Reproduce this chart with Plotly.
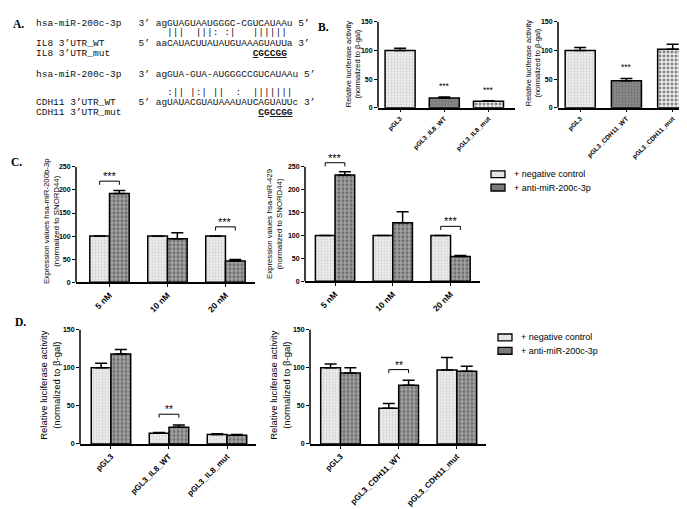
import plotly.graph_objects as go

W, H = 687, 509

# ---------------- data ----------------
mir_name = "hsa-miR-200c-3p"
il8_mir_seq = "agGUAGUAAUGGGC-CGUCAUAAu 5\u2019"
il8_pairs = "  |||  |||: :|   ||||||"
il8_wt_seq = "aaCAUACUUAUAUGUAAAGUAUUa 3\u2019"
il8_names = ["IL8 3\u2019UTR_WT", "IL8 3\u2019UTR_mut"]
il8_mut_start = 17
cdh_mir_seq = "agGUA-GUA-AUGGGCCGUCAUAAu 5\u2019"
cdh_pairs = "  :|| |:| ||  :  |||||||"
cdh_wt_seq = "agUAUACGUAUAAAUAUCAGUAUUc 3\u2019"
cdh_names = ["CDH11 3\u2019UTR_WT", "CDH11 3\u2019UTR_mut"]
cdh_mut_start = 18
mut_parts = [("C", True), ("G", False), ("CCGG", True)]

b1_labels = ["pGL3", "pGL3_IL8_WT", "pGL3_IL8_mut"]
b1_values = [100, 17, 11]
b1_errors = [4, 1.5, 1]
b1_sig = ["", "***", "***"]

b2_labels = ["pGL3", "pGL3_CDH11_WT", "pGL3_CDH11_mut"]
b2_values = [100, 47, 102]
b2_errors = [5, 4, 9]
b2_sig = ["", "***", ""]

c_labels = ["5 nM", "10 nM", "20 nM"]
c1_neg = [100, 100, 100]
c1_neg_err = [0, 0, 0]
c1_anti = [192, 94, 46]
c1_anti_err = [7, 13, 3]
c1_sig = ["***", "", "***"]

c2_neg = [100, 100, 100]
c2_neg_err = [0, 0, 0]
c2_anti = [232, 128, 54]
c2_anti_err = [7, 24, 2]
c2_sig = ["***", "", "***"]

d1_labels = ["pGL3", "pGL3_IL8_WT", "pGL3_IL8_mut"]
d1_neg = [100, 14, 12.5]
d1_neg_err = [6, 1, 1]
d1_anti = [118, 22, 11.5]
d1_anti_err = [6, 3, 1]
d1_sig = ["", "**", ""]

d2_labels = ["pGL3", "pGL3_CDH11_WT", "pGL3_CDH11_mut"]
d2_neg = [100, 47, 97]
d2_neg_err = [5, 6, 16.5]
d2_anti = [93, 77, 95.5]
d2_anti_err = [7, 6.5, 6.5]
d2_sig = ["", "**", ""]

legend_labels = ["+ negative control", "+ anti-miR-200c-3p"]

# ---------------- styles ----------------
SANS = "Liberation Sans, Arial, sans-serif"
MONO = "Liberation Mono, Courier New, monospace"
SERIF = "Liberation Serif, Times New Roman, serif"
BARGAP = 0.32

PAT_NEG = dict(shape=".", bgcolor="#ededed", fgcolor="#b0b0b0", size=3, solidity=0.35)
PAT_ANTI = dict(shape=".", bgcolor="#a2a2a2", fgcolor="#383838", size=4, solidity=0.4)
PAT_MID = dict(shape=".", bgcolor="#8a8a8a", fgcolor="#505050", size=3, solidity=0.3)
PAT_CHECK = dict(shape=".", bgcolor="#f4f4f4", fgcolor="#111111", size=4, solidity=0.5)
LINE = dict(color="black", width=1.5)


def fx(px):
    return px / W


def fy(py):
    return 1 - py / H


def err(arr):
    return dict(type="data", symmetric=False, array=arr, arrayminus=[0] * len(arr),
                color="black", thickness=1.5, width=6)


fig = go.Figure()
layout = {}
shapes = []
annotations = []


def setup_axes(n, xpx, xr, y0, yT, T, R, dtick, ticktext, xfont):
    sfx = "" if n == 1 else str(n)
    top = y0 - R / T * (y0 - yT)
    layout["xaxis" + sfx] = dict(
        domain=[fx(xpx[0]), fx(xpx[1])], range=list(xr), anchor="y" + sfx,
        showline=True, linecolor="black", linewidth=1.5, ticks="outside", ticklen=3,
        tickwidth=1, tickcolor="black", tickvals=[0, 1, 2], ticktext=ticktext,
        tickangle=-45, tickfont=dict(family=SANS, size=xfont, color="black", weight="bold"),
        showgrid=False, zeroline=False)
    layout["yaxis" + sfx] = dict(
        domain=[fy(y0), fy(top)], range=[0, R], anchor="x" + sfx,
        showline=False, ticks="outside", ticklen=3, tickwidth=1, tickcolor="black",
        tickvals=list(range(0, T + 1, dtick)),
        tickfont=dict(family=SANS, size=7, color="black", weight="bold"),
        showgrid=False, zeroline=False)
    shapes.append(dict(type="line", xref="x" + sfx + " domain", yref="y" + sfx,
                       x0=0, x1=0, y0=0, y1=T, line=dict(color="black", width=1.5)))
    return "x" + sfx, "y" + sfx


def single_panel(n, labels, values, errors, sig, pats, width, geom, xfont):
    xa, ya = setup_axes(n, *geom, ticktext=labels, xfont=xfont)
    fig.add_trace(go.Bar(
        x=[0, 1, 2], y=values, width=width, xaxis=xa, yaxis=ya,
        marker=dict(line=LINE, pattern=dict(
            shape=[p["shape"] for p in pats], bgcolor=[p["bgcolor"] for p in pats],
            fgcolor=[p["fgcolor"] for p in pats], size=[p["size"] for p in pats],
            solidity=[p["solidity"] for p in pats])),
        error_y=err(errors)))
    for i, s in enumerate(sig):
        if s:
            annotations.append(dict(x=i, y=values[i] + errors[i], xref=xa, yref=ya, text=s,
                                    showarrow=False, yanchor="bottom", yshift=4,
                                    font=dict(family=SANS, size=8.5, color="black")))


def group_panel(n, labels, neg, neg_err, anti, anti_err, sig, geom, xfont, pad, tick, starsize):
    xa, ya = setup_axes(n, *geom, ticktext=labels, xfont=xfont)
    fig.add_trace(go.Bar(x=[0, 1, 2], y=neg, xaxis=xa, yaxis=ya, name=legend_labels[0],
                         marker=dict(line=LINE, pattern=PAT_NEG), error_y=err(neg_err)))
    fig.add_trace(go.Bar(x=[0, 1, 2], y=anti, xaxis=xa, yaxis=ya, name=legend_labels[1],
                         marker=dict(line=LINE, pattern=PAT_ANTI), error_y=err(anti_err)))
    off = (1 - BARGAP) / 4
    for i, s in enumerate(sig):
        if not s:
            continue
        yb = max(neg[i] + neg_err[i], anti[i] + anti_err[i]) + pad
        shapes.append(dict(type="path", xref=xa, yref=ya,
                           path=f"M{i - off},{yb - tick} L{i - off},{yb} L{i + off},{yb} L{i + off},{yb - tick}",
                           line=dict(color="black", width=1)))
        annotations.append(dict(x=i, y=yb, xref=xa, yref=ya, text=s, showarrow=False,
                                yanchor="bottom", yshift=-3,
                                font=dict(family=SANS, size=starsize, color="black")))


# geometry: (x px range, x data range, y px of 0, y px of top tick, top tick, range top, dtick)
single_panel(1, b1_labels, b1_values, b1_errors, b1_sig, [PAT_NEG, PAT_MID, PAT_CHECK], 0.68,
             ((370, 507), (-0.5, 2.6), 97, 10, 150, 150, 50), 6.5)
single_panel(2, b2_labels, b2_values, b2_errors, b2_sig, [PAT_NEG, PAT_MID, PAT_CHECK], 0.65,
             ((550, 685), (-0.48, 2.44), 97, 10, 150, 150, 50), 6.5)
group_panel(3, c_labels, c1_neg, c1_neg_err, c1_anti, c1_anti_err, c1_sig,
            ((68, 247), (-0.578, 2.51), 274, 157, 250, 250, 50), 8.5, 20, 8, 11)
group_panel(4, c_labels, c2_neg, c2_neg_err, c2_anti, c2_anti_err, c2_sig,
            ((297, 472), (-0.52, 2.51), 273, 157, 250, 285, 50), 8.5, 20, 8, 11)
group_panel(5, d1_labels, d1_neg, d1_neg_err, d1_anti, d1_anti_err, d1_sig,
            ((72, 248), (-0.534, 2.5), 438, 322, 150, 150, 50), 8, 14, 4.5, 10)
group_panel(6, d2_labels, d2_neg, d2_neg_err, d2_anti, d2_anti_err, d2_sig,
            ((302, 478), (-0.524, 2.5), 438, 322, 150, 150, 50), 8, 14, 4.5, 10)

# y-axis titles
ytitles = [
    ("Relative luciferase activity<br>(normalized to \u03b2-gal)", 345, 52, 7.5),
    ("Relative luciferase activity<br>(normalized to \u03b2-gal)", 525, 52, 7.5),
    ("Expression values hsa-miR-200b-3p<br>(normalized to SNORD44)", 43, 212, 7.8),
    ("Expression values hsa-miR-429<br>(normalized to SNORD44)", 266, 215, 7.8),
    ("Relative luciferase activity<br>(normalized to \u03b2-gal)", 42, 378, 9.5),
    ("Relative luciferase activity<br>(normalized to \u03b2-gal)", 272, 378, 9.5),
]
for t, x, y, s in ytitles:
    annotations.append(dict(x=fx(x), y=fy(y), xref="paper", yref="paper", text=t, textangle=-90,
                            showarrow=False, xanchor="center", yanchor="middle",
                            font=dict(family=SANS, size=s, color="black")))

# panel letters
for t, x, y in [("A.", 5, 12), ("B.", 310, 15), ("C.", 3, 152), ("D.", 7, 314)]:
    annotations.append(dict(x=fx(x), y=fy(y), xref="paper", yref="paper", text="<b>" + t + "</b>",
                            showarrow=False, xanchor="left", yanchor="middle",
                            borderpad=0, borderwidth=0,
                            font=dict(family=SERIF, size=11.5, color="black")))

# legends
for (bx, by, tx) in [(483, 164.5, 504), (490, 330, 511)]:
    for k, lab in enumerate(legend_labels):
        cy = by + k * 13.5
        shapes.append(dict(type="rect", xref="paper", yref="paper",
                           x0=fx(bx), x1=fx(bx + 14), y0=fy(cy + 3.5), y1=fy(cy - 3.5),
                           fillcolor="#e4e4e4" if k == 0 else "#7a7a7a",
                           line=dict(color="black", width=1.3)))
        annotations.append(dict(x=fx(tx), y=fy(cy), xref="paper", yref="paper", text=lab,
                                showarrow=False, xanchor="left", yanchor="middle",
                                font=dict(family=SANS, size=9, color="black")))

# panel A sequences: each line is one monospace string so columns align exactly
MS = 9.5
LINE_X = 28
NAME_W = 18
SEQ_COL = 21
NB = "\u00a0"


def mono(text, y):
    annotations.append(dict(x=fx(LINE_X), y=fy(y), xref="paper", yref="paper", text=text,
                            showarrow=False, xanchor="left", yanchor="middle",
                            borderpad=0, borderwidth=0,
                            font=dict(family=MONO, size=MS, color="#111111")))


def nb(s):
    return s.replace(" ", NB)


blocks = [
    (il8_mir_seq, il8_pairs, il8_names, il8_wt_seq, il8_mut_start, (12, 20.5, 32, 42)),
    (cdh_mir_seq, cdh_pairs, cdh_names, cdh_wt_seq, cdh_mut_start, (63, 81.5, 92, 102)),
]
UND = '<span style="text-decoration:underline">'
for mseq, pairs, names, wseq, mstart, ys in blocks:
    mono(nb(mir_name.ljust(NAME_W) + "3\u2019 " + mseq), ys[0])
    mono(nb(" " * SEQ_COL + pairs), ys[1])
    mono(nb(names[0].ljust(NAME_W) + "5\u2019 " + wseq), ys[2])
    mut = ""
    for part, und in mut_parts:
        mut += (UND + part + "</span>") if und else part
    mono(nb(names[1].ljust(SEQ_COL + mstart)) + "<b>" + mut + "</b>", ys[3])

layout.update(dict(
    width=W, height=H, margin=dict(l=0, r=0, t=0, b=0), paper_bgcolor="white",
    plot_bgcolor="white", showlegend=False, barmode="group", bargap=BARGAP, bargroupgap=0,
    shapes=shapes, annotations=annotations))
fig.update_layout(**layout)
fig.write_html("out.html")
